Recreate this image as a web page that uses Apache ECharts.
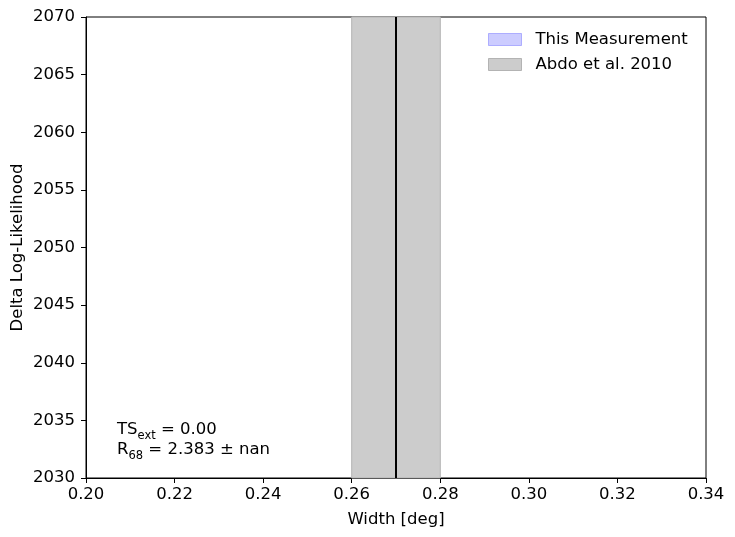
<!DOCTYPE html>
<html>
<head>
<meta charset="utf-8">
<script src="https://cdn.jsdelivr.net/npm/echarts@6/dist/echarts.min.js"></script>
<style>
html,body{margin:0;padding:0;background:#fff;}
#chart{width:735px;height:537px;}
</style>
</head>
<body>
<div id="chart"></div>
<script>
// axis ranges
let xRange=[0.20,0.34];
let yRange=[2030,2070];
// Abdo et al. 2010 width band and central value
let abdoBand=[0.26,0.28];
let abdoCentre=[0.27];
// this measurement: nan, nothing drawn
let thisMeas=[];
let legendNames=['This Measurement','Abdo et al. 2010'];
let tsExt='0.00';
let r68='2.383';

let font='DejaVu Sans';
let fs=16.5;
let chartDom=document.getElementById('chart');
let myChart=echarts.init(chartDom);

let centreLine=abdoCentre.map(function(v){return [[v,yRange[0]],[v,yRange[1]]];})[0];

let option={
	animation:false,
	textStyle:{fontFamily:font},
	grid:{left:86,right:29,top:17,bottom:59,outerBoundsMode:'none',containLabel:false,show:true,borderColor:'#000',borderWidth:1,backgroundColor:'transparent'},
	legend:{
		orient:'vertical',left:488,top:31,itemGap:8,padding:0,
		itemWidth:33,itemHeight:12,icon:'rect',
		textStyle:{fontFamily:font,fontSize:fs,color:'#000',padding:[0,0,0,9]},
		data:[
			{name:legendNames[0],itemStyle:{color:'rgba(0,0,255,0.2)',borderColor:'rgba(0,0,255,0.25)',borderWidth:1}},
			{name:legendNames[1],itemStyle:{color:'#cccccc',borderColor:'#b3b3b3',borderWidth:1}}
		]
	},
	xAxis:{
		type:'value',min:xRange[0],max:xRange[1],interval:0.02,
		name:'Width [deg]',nameLocation:'middle',nameGap:33,nameMoveOverlap:false,
		nameTextStyle:{fontFamily:font,fontSize:fs,color:'#000'},
		axisLine:{show:true,lineStyle:{color:'#000'}},
		axisTick:{show:true,inside:false,length:5,lineStyle:{color:'#000'}},
		axisLabel:{fontFamily:font,fontSize:fs,color:'#000',margin:8,formatter:function(v){return v.toFixed(2);}},
		splitLine:{show:false}
	},
	yAxis:{
		type:'value',min:yRange[0],max:yRange[1],interval:5,
		name:'Delta Log-Likelihood',nameLocation:'middle',nameGap:60,nameMoveOverlap:false,
		nameTextStyle:{fontFamily:font,fontSize:fs,color:'#000'},
		axisLine:{show:true,lineStyle:{color:'#000'}},
		axisTick:{show:true,inside:false,length:5,lineStyle:{color:'#000'}},
		axisLabel:{fontFamily:font,fontSize:fs,color:'#000',margin:11,formatter:function(v){return String(v);}},
		splitLine:{show:false}
	},
	series:[
		{
			name:legendNames[0],type:'line',data:thisMeas,
			itemStyle:{color:'rgba(0,0,255,0.2)'}
		},
		{
			name:legendNames[1],type:'line',data:[],
			itemStyle:{color:'#cccccc'},
			markArea:{
				silent:true,
				itemStyle:{color:'#cccccc',borderColor:'#b3b3b3',borderWidth:1},
				data:[[{xAxis:abdoBand[0]},{xAxis:abdoBand[1]}]]
			}
		},
		{
			name:'centre',type:'line',data:centreLine,
			showSymbol:false,lineStyle:{color:'#000',width:2},z:5
		}
	],
	graphic:[{
		type:'text',left:117,top:421,z:10,
		style:{
			text:'{n|TS}{s|ext}{n| = '+tsExt+'}\n{n|R}{s|68}{n| = '+r68+' ± nan}',
			fontFamily:font,
			rich:{
				n:{fontFamily:font,fontSize:fs,color:'#000',lineHeight:20,verticalAlign:'bottom'},
				s:{fontFamily:font,fontSize:11.5,color:'#000',lineHeight:20,verticalAlign:'bottom',padding:[0,0,-4,0]}
			}
		}
	}]
};
myChart.setOption(option);
</script>
</body>
</html>
